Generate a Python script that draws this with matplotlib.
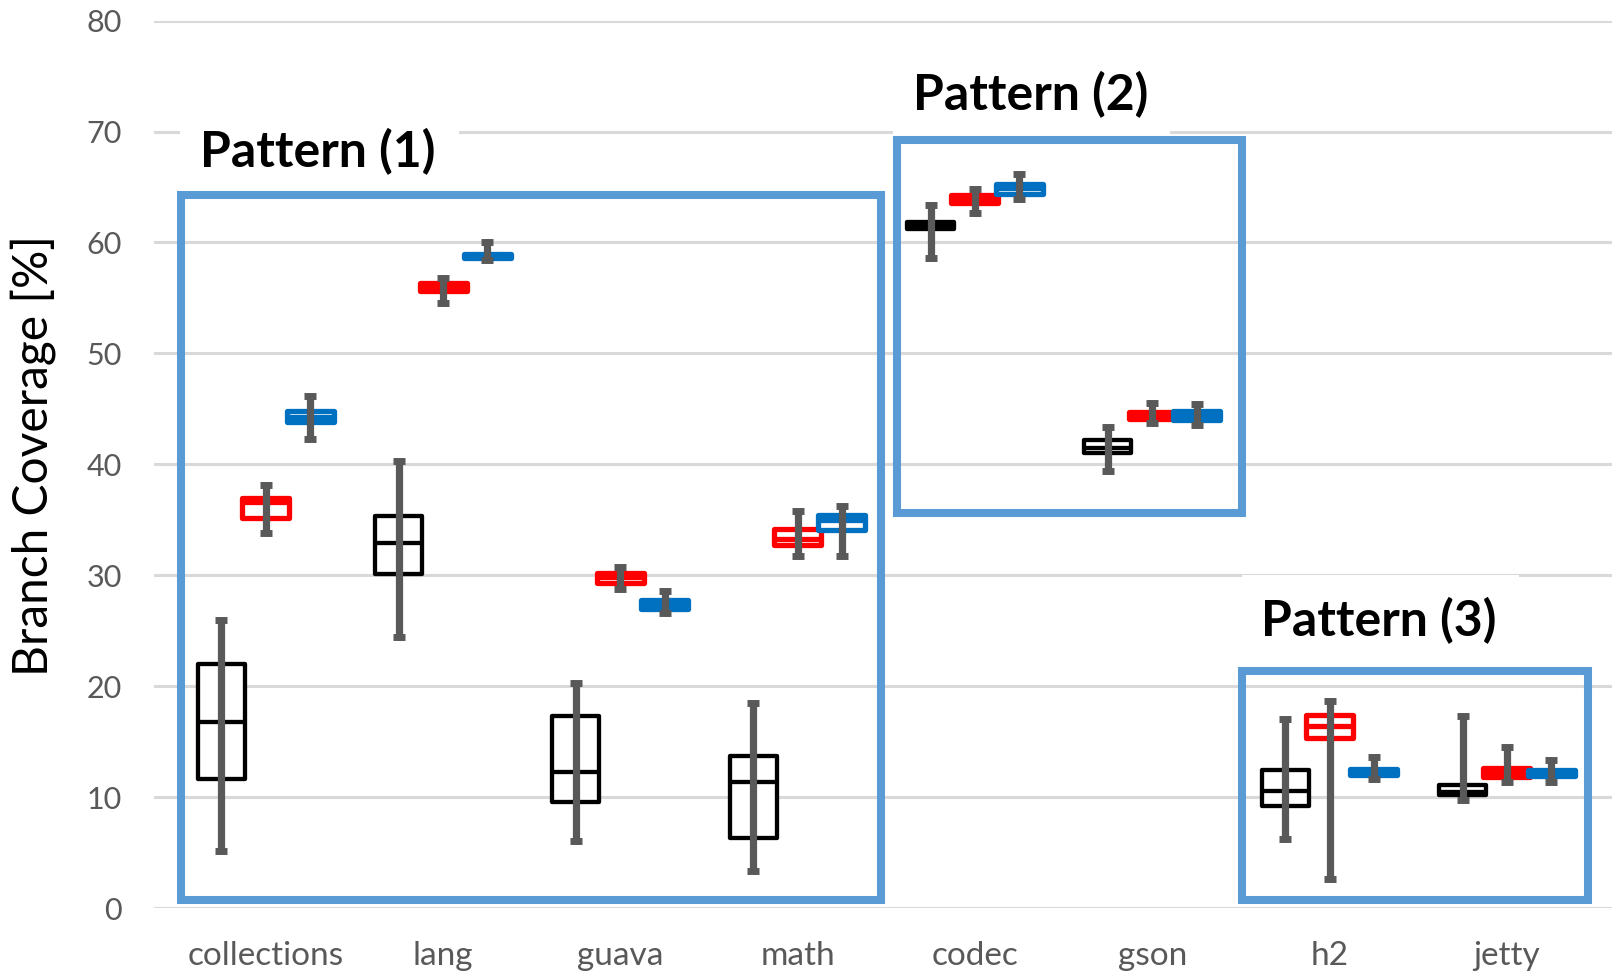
import numpy as np
import matplotlib.pyplot as plt
from matplotlib.patches import Rectangle

projects = ['collections', 'lang', 'guava', 'math', 'codec', 'gson', 'h2', 'jetty']

# per project: black / red / blue series
black_q1 = [11.6, 30.1, 9.6, 6.3, 61.2, 41.0, 9.2, 10.2]
black_med = [16.8, 32.9, 12.3, 11.4, 61.5, 41.5, 10.55, 10.5]
black_q3 = [22.0, 35.3, 17.3, 13.7, 61.8, 42.2, 12.45, 11.1]
black_min = [5.1, 24.4, 6.0, 3.3, 58.6, 39.4, 6.2, 9.7]
black_max = [26.0, 40.3, 20.3, 18.5, 63.4, 43.4, 17.0, 17.3]

red_q1 = [35.2, 55.6, 29.3, 32.7, 63.6, 44.1, 15.3, 11.8]
red_med = [36.6, 56.0, 29.8, 33.3, 64.0, 44.4, 16.45, 12.2]
red_q3 = [37.0, 56.3, 30.2, 34.2, 64.3, 44.7, 17.4, 12.6]
red_min = [33.8, 54.5, 28.8, 31.7, 62.7, 43.7, 2.6, 11.4]
red_max = [38.1, 56.8, 30.7, 35.8, 64.8, 45.5, 18.7, 14.5]

blue_q1 = [43.8, 58.6, 27.0, 34.1, 64.4, 44.0, 12.0, 11.9]
blue_med = [44.3, 58.7, 27.4, 35.0, 64.9, 44.4, 12.2, 12.2]
blue_q3 = [44.8, 59.0, 27.8, 35.4, 65.3, 44.8, 12.5, 12.4]
blue_min = [42.3, 58.4, 26.6, 31.7, 63.9, 43.5, 11.6, 11.4]
blue_max = [46.2, 60.0, 28.6, 36.2, 66.2, 45.4, 13.6, 13.3]

series = [
    ('#000000', -0.25, 3.1, black_q1, black_med, black_q3, black_min, black_max),
    ('#FF0000', 0.0, 3.8, red_q1, red_med, red_q3, red_min, red_max),
    ('#0070C0', 0.25, 3.8, blue_q1, blue_med, blue_q3, blue_min, blue_max),
]

patterns = ['Pattern (1)', 'Pattern (2)', 'Pattern (3)']

W, H = 1612, 975
fig = plt.figure(figsize=(W / 100, H / 100), dpi=100)
ax = fig.add_axes([154 / W, 1 - 908 / H, (W - 154) / W, (908 - 20.6) / H])

ax.set_xlim(-0.630, 7.593)
ax.set_ylim(0, 80)
ax.set_yticks(np.arange(0, 81, 10))
ax.yaxis.grid(True, color='#D9D9D9', lw=2.2, zorder=0)
ax.set_axisbelow(True)
for s in ax.spines.values():
    s.set_visible(False)

x = np.arange(len(projects))
ax.set_xticks(x)
ax.set_xticklabels(projects)
ax.tick_params(axis='both', length=0, colors='#595959')
ax.tick_params(axis='x', pad=24, labelsize=24)
ax.tick_params(axis='y', pad=23, labelsize=22)
for lab in ax.get_xticklabels() + ax.get_yticklabels():
    lab.set_family('Lato')

bw = 0.265
for color, off, lw, q1, med, q3, lo, hi in series:
    for i in range(len(projects)):
        xc = x[i] + off
        ax.add_patch(Rectangle((xc - bw / 2, q1[i]), bw, q3[i] - q1[i],
                               facecolor='white', edgecolor=color, lw=lw,
                               joinstyle='round', zorder=3))
        ax.plot([xc - bw / 2, xc + bw / 2], [med[i], med[i]], color=color,
                lw=lw, solid_capstyle='butt', zorder=3)
    xs = x + off
    med = np.array(med)
    ax.errorbar(xs, med, yerr=[med - np.array(lo), np.array(hi) - med],
                fmt='none', ecolor='#595959', elinewidth=5.2, capsize=4.3,
                capthick=5.0, zorder=4)

# pattern frames
frames = [(-0.475, 0.68, 3.47, 64.3), (3.56, 35.6, 5.508, 69.2), (5.508, 0.68, 7.46, 21.4)]
for x0, y0, x1, y1 in frames:
    ax.add_patch(Rectangle((x0, y0), x1 - x0, y1 - y0, fill=False,
                           edgecolor='#5B9BD5', lw=5.8, zorder=5, clip_on=False))

# white label backgrounds + labels
label_bg = [(-0.483, 65.2, 1.09, 71.5), (3.538, 69.5, 5.101, 77.8), (5.507, 23.3, 7.069, 30.0)]
label_pos = [(-0.37, 66.8), (3.652, 71.9), (5.615, 24.55)]
for (x0, y0, x1, y1), (tx, ty), txt in zip(label_bg, label_pos, patterns):
    ax.add_patch(Rectangle((x0, y0), x1 - x0, y1 - y0, facecolor='white',
                           edgecolor='none', zorder=1))
    ax.text(tx, ty, txt, family='Lato', fontweight='bold', fontsize=36,
            ha='left', va='baseline', zorder=6)

fig.text(33 / W, 0.533, 'Branch Coverage [%]', rotation=90, family='Lato',
         fontsize=34.5, ha='center', va='center')

fig.savefig('out.png', dpi=100, facecolor='white')
